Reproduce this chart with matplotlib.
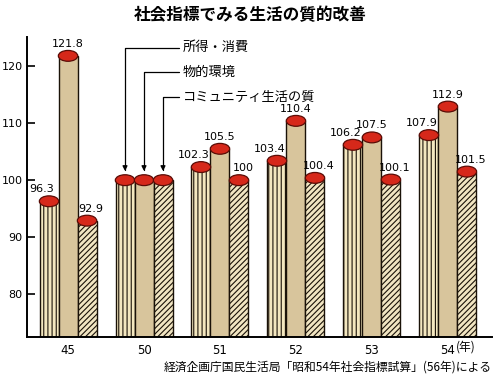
import numpy as np
import matplotlib
matplotlib.use("Agg")
import matplotlib.pyplot as plt
from matplotlib.patches import Ellipse

plt.rcParams['font.family'] = ['DejaVu Sans', 'Noto Sans CJK JP']
plt.rcParams['hatch.linewidth'] = 0.8

years = ["45", "50", "51", "52", "53", "54"]
income = [96.3, 100, 102.3, 103.4, 106.2, 107.9]       # 所得・消費
environment = [121.8, 100, 105.5, 110.4, 107.5, 112.9]  # 物的環境
community = [92.9, 100, 100, 100.4, 100.1, 101.5]       # コミュニティ生活の質
series_names = ["所得・消費", "物的環境", "コミュニティ生活の質"]
show_label = [True, False, True, True, True, True]

jp = ['Noto Sans CJK JP', 'DejaVu Sans']

fig = plt.figure(figsize=(5, 3.78), dpi=100)
ax = fig.add_axes([0.054, 0.1085, 0.93, 0.7935])

x = np.arange(len(years))
w = 0.25
ymin = 72.5

styles = [
    dict(color="#f3e7bf", hatch="||||"),
    dict(color="#d8c59c", hatch=None),
    dict(color="#f1e5c2", hatch="//////"),
]
offsets = [(-7, 12), (0, 12), (4, 12)]

for i, vals in enumerate([income, environment, community]):
    xs = x + (i - 1) * w
    heights = np.array(vals) - ymin
    ax.bar(xs, heights, width=w, bottom=ymin, color=styles[i]["color"],
           hatch=styles[i]["hatch"], edgecolor="#1a1208", linewidth=1.0, zorder=2)
    for j, (xx, v) in enumerate(zip(xs, vals)):
        ax.add_patch(Ellipse((xx, v), width=w * 1.02, height=1.9,
                             facecolor="#d6281a", edgecolor="#5a0c06",
                             linewidth=0.9, zorder=3))
        if show_label[j]:
            ax.annotate(f"{v:g}", xy=(xx, v), xytext=offsets[i],
                        textcoords="offset pixels", ha="center", va="center",
                        fontsize=8, zorder=4)

# legend arrows pointing at the 50 group
legend_y = [123.2, 118.9, 114.6]
for i, name in enumerate(series_names):
    ax.annotate(name, xy=(x[1] + (i - 1) * w, 101.6), xytext=(1.51, legend_y[i]),
                ha="left", va="center", fontsize=9.5, family=jp,
                arrowprops=dict(arrowstyle="-|>", color="black", lw=0.9,
                                mutation_scale=7, relpos=(0, 0.5),
                                connectionstyle="angle,angleA=180,angleB=90,rad=0",
                                shrinkA=1, shrinkB=0))

ax.set_xlim(-0.54, 5.58)
ax.set_ylim(ymin, 125.1)
ax.set_yticks([80, 90, 100, 110, 120])
ax.set_xticks(x)
ax.set_xticklabels(years)
ax.tick_params(axis="y", direction="in", length=6, width=1.2, labelsize=8, pad=3)
ax.tick_params(axis="x", length=0, labelsize=8.5, pad=5)
for s in ["top", "right"]:
    ax.spines[s].set_visible(False)
ax.spines["left"].set_linewidth(1.4)
ax.spines["bottom"].set_linewidth(1.4)

ax.annotate("(年)", xy=(x[-1], 0), xycoords=("data", "axes fraction"),
            xytext=(8, -10), textcoords="offset pixels", ha="left", va="center",
            fontsize=8.5, family=jp)

fig.text(0.5, 0.96, "社会指標でみる生活の質的改善", ha="center", va="center",
         fontsize=12, fontweight="bold", family=jp)
fig.text(0.984, 0.03, "経済企画庁国民生活局「昭和54年社会指標試算」(56年)による",
         ha="right", va="center", fontsize=8.5, family=jp)

fig.savefig("out.png", dpi=100)
